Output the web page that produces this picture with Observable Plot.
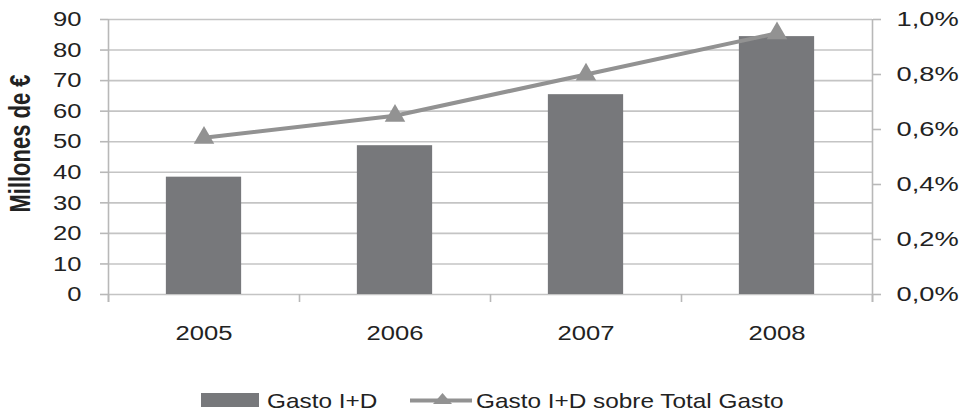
<!DOCTYPE html>
<html>
<head>
<meta charset="utf-8">
<script src="https://cdn.jsdelivr.net/npm/d3@7"></script>
<script src="https://cdn.jsdelivr.net/npm/@observablehq/plot@0.6"></script>
<style>
  html, body { margin: 0; padding: 0; background: #ffffff; }
  #chart { width: 966px; }
  svg { display: block; }
</style>
</head>
<body>
<div id="chart"></div>
<script>
// ---- data ----
const years = [2005, 2006, 2007, 2008];
const gastoID = [38.4, 48.7, 65.4, 84.4];          // Millones de €
const gastoSobreTotal = [0.57, 0.65, 0.80, 0.95];  // %
const leftTicks = [0, 10, 20, 30, 40, 50, 60, 70, 80, 90];
const rightTicks = [0, 0.2, 0.4, 0.6, 0.8, 1.0];
const seriesNames = ["Gasto I+D", "Gasto I+D sobre Total Gasto"];
const yTitle = "Millones de €";

// ---- styles ----
const barColor = "#77787b";
const lineColor = "#929292";
const gridColor = "#c4c4c4";
const axisColor = "#b8b8b8";
const textColor = "#222222";
const leftMax = 90, rightMax = 1.0;
const toLeft = p => p * leftMax / rightMax;

const data = years.map((year, i) => ({year, gasto: gastoID[i], pct: gastoSobreTotal[i]}));
const bounds = [years[0] - 0.5, ...years.map(y => y + 0.5)];
const halfBar = 0.197;

const plot = Plot.plot({
  width: 966,
  height: 380,
  marginTop: 19,
  marginBottom: 86,
  marginLeft: 108,
  marginRight: 94,
  x: {type: "linear", domain: [bounds[0], bounds[bounds.length - 1]]},
  y: {domain: [0, leftMax]},
  style: {fontFamily: "'Liberation Sans', Arial, sans-serif", fontSize: "21px", color: textColor, background: "#ffffff"},
  marks: [
    Plot.ruleY(leftTicks, {stroke: gridColor, strokeWidth: 1.6}),
    Plot.axisY({ticks: leftTicks, anchor: "left", tickSize: 8, tickPadding: 19, stroke: axisColor, strokeWidth: 1.6, label: null, tickFormat: d => String(d)}),
    Plot.axisY({ticks: rightTicks.map(toLeft), anchor: "right", tickSize: 8, tickPadding: 16, stroke: axisColor, strokeWidth: 1.6, label: null,
      tickFormat: d => (d * rightMax / leftMax).toFixed(1).replace(".", ",") + "%"}),
    Plot.axisX({ticks: bounds, tickSize: 8, stroke: axisColor, strokeWidth: 1.6, tickFormat: () => "", label: null}),
    Plot.axisX({ticks: years, tickSize: 0, tickPadding: 31, tickFormat: d => String(d), label: null}),
    Plot.ruleX([bounds[0], bounds[bounds.length - 1]], {stroke: axisColor, strokeWidth: 1.6, insetBottom: -8}),
    Plot.rectY(data, {x1: d => d.year - halfBar, x2: d => d.year + halfBar, y: "gasto", fill: barColor}),
    Plot.line(data, {x: "year", y: d => toLeft(d.pct), stroke: lineColor, strokeWidth: 4}),
    Plot.dot(data, {x: "year", y: d => toLeft(d.pct), symbol: "triangle", r: 7.6, fill: lineColor, stroke: "none"})
  ]
});

document.getElementById("chart").appendChild(plot);

// y-axis title (rotated), placed beside the left axis
const title = d3.select(plot).append("text")
  .attr("transform", "translate(20,143.5) rotate(-90)")
  .attr("text-anchor", "middle")
  .attr("dy", "0.35em")
  .attr("font-weight", "bold")
  .attr("font-size", 22)
  .attr("fill", textColor)
  .text(yTitle);

// horizontal stretch of text to match the reference's wide glyphs
function stretch(textEl, s, rotated) {
  const bb = textEl.getBBox();
  const t = textEl.getAttribute("transform") || "";
  if (rotated) {
    const cy = bb.y + bb.height / 2;
    textEl.setAttribute("transform", `${t} translate(0,${cy}) scale(1,${s}) translate(0,${-cy})`);
    return;
  }
  const anchor = getComputedStyle(textEl).textAnchor;
  const ox = anchor === "start" ? bb.x : anchor === "end" ? bb.x + bb.width : bb.x + bb.width / 2;
  textEl.setAttribute("transform", `${t} translate(${ox},0) scale(${s},1) translate(${-ox},0)`);
}
plot.querySelectorAll("g[aria-label='y-axis tick label'] text").forEach(el => {
  const anchor = getComputedStyle(el).textAnchor;
  stretch(el, anchor === "start" ? 1.3 : 1.22, false);
});
plot.querySelectorAll("g[aria-label='x-axis tick label'] text").forEach(el => stretch(el, 1.22, false));
stretch(title.node(), 1.35, true);

// ---- legend (below the chart) ----
const leg = d3.create("svg").attr("width", 966).attr("height", 35)
  .style("font-family", "'Liberation Sans', Arial, sans-serif").style("font-size", "21px");
leg.append("rect").attr("x", 201).attr("y", 13).attr("width", 58).attr("height", 14).attr("fill", barColor);
leg.append("text").attr("transform", "translate(267,28) scale(1.16,1)").attr("fill", textColor).text(seriesNames[0]);
leg.append("line").attr("x1", 410).attr("x2", 472).attr("y1", 20.5).attr("y2", 20.5).attr("stroke", lineColor).attr("stroke-width", 4);
leg.append("path").attr("d", "M442.5,13L452,24L433,24Z").attr("fill", lineColor);
leg.append("text").attr("transform", "translate(476,28) scale(1.16,1)").attr("fill", textColor).text(seriesNames[1]);
document.getElementById("chart").appendChild(leg.node());
</script>
</body>
</html>
